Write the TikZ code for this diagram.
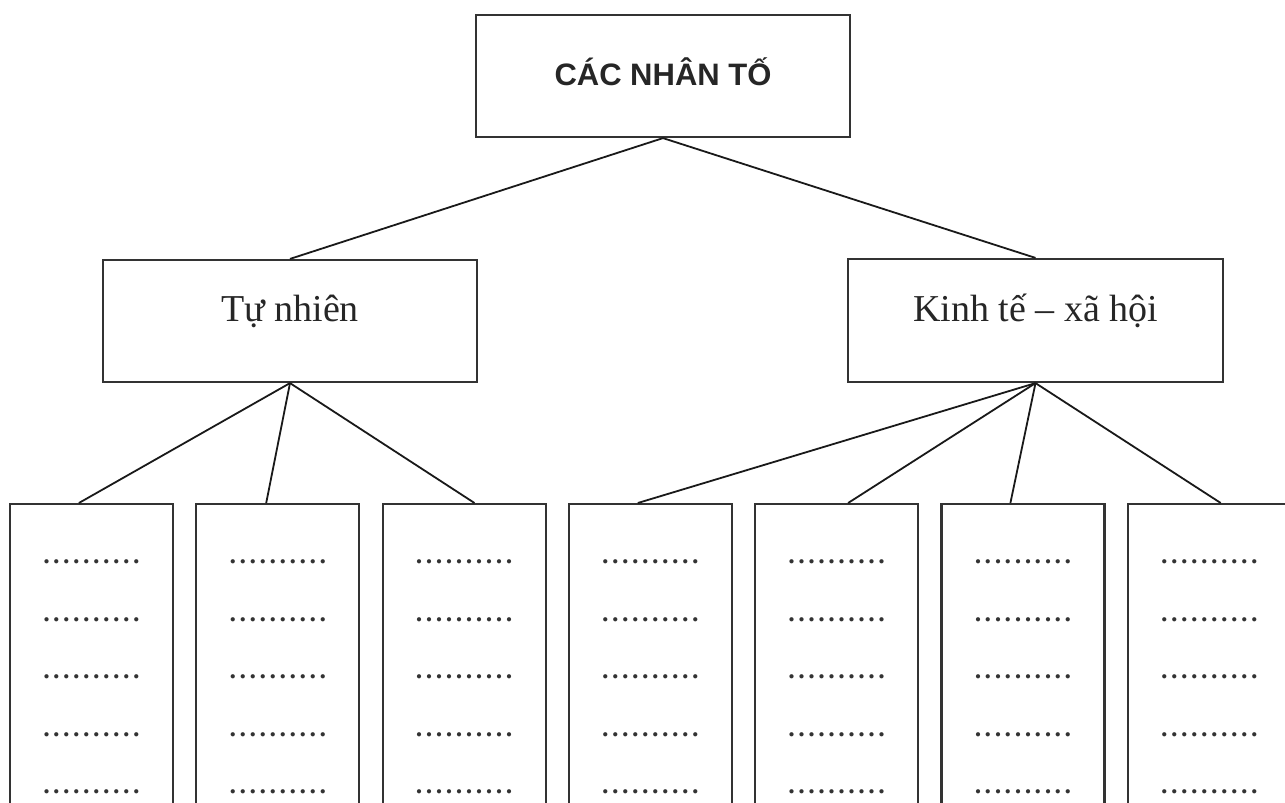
\documentclass[tikz,border=0pt]{standalone}
\usepackage{fontspec}
\setmainfont{Liberation Serif}
\newfontfamily\headfont{Liberation Sans}
\usetikzlibrary{calc}
\newcommand{\dotline}{.\kern3.5pt.\kern3.5pt.\kern3.5pt.\kern3.5pt.\kern3.5pt.\kern3.5pt.\kern3.5pt.\kern3.5pt.\kern3.5pt.}
\begin{document}
\begin{tikzpicture}[x=1pt,y=-1pt,
  box/.style={draw=black!80, line width=2.2pt, rectangle, inner sep=0pt},
  conn/.style={draw=black!90, line width=1.8pt},
  mid/.style={box, minimum width=374pt, font=\fontsize{38}{38}\selectfont, text=black!85},
  leaf/.style={box, minimum width=163pt, minimum height=360pt, anchor=north},
  dots/.style={anchor=base, inner sep=0pt, font=\bfseries\fontsize{26}{26}\selectfont, text=black!80}]
\useasboundingbox (0,0) rectangle (1285,803);
\clip (0,0) rectangle (1285,803);

\node[box, minimum width=374pt, text height=70pt, text depth=52pt,
      font=\headfont\bfseries\fontsize{31}{31}\selectfont, text=black!85] (top) at (663,76) {CÁC NHÂN TỐ};

\node[mid, text height=61pt, text depth=61pt] (tn) at (290,321) {Tự nhiên};
\node[mid, text height=62pt, text depth=61pt, minimum width=375pt] (kt) at (1035.5,320.5) {Kinh tế – xã hội};

\foreach \i in {0,...,6} {
  \pgfmathsetmacro{\cx}{10+186.3*\i+81.5}
  \node[leaf] (b\i) at (\cx,503) {};
  \foreach \j in {0,...,4} {
    \pgfmathsetmacro{\by}{563.5+57.5*\j}
    \node[dots] (d\i-\j) at (\cx,\by) {\dotline};
  }
}

\draw[conn] (top.south) -- (tn.north);
\draw[conn] (top.south) -- (kt.north);

\draw[conn] (tn.south) -- ($(b0.north west)+(70,0)$);
\draw[conn] (tn.south) -- ($(b1.north west)+(71,0)$);
\draw[conn] (tn.south) -- ($(b2.north west)+(93,0)$);

\draw[conn] (kt.south) -- ($(b3.north west)+(70,0)$);
\draw[conn] (kt.south) -- ($(b4.north west)+(94,0)$);
\draw[conn] (kt.south) -- ($(b5.north west)+(70,0)$);
\draw[conn] (kt.south) -- ($(b6.north west)+(94,0)$);
\end{tikzpicture}
\end{document}
